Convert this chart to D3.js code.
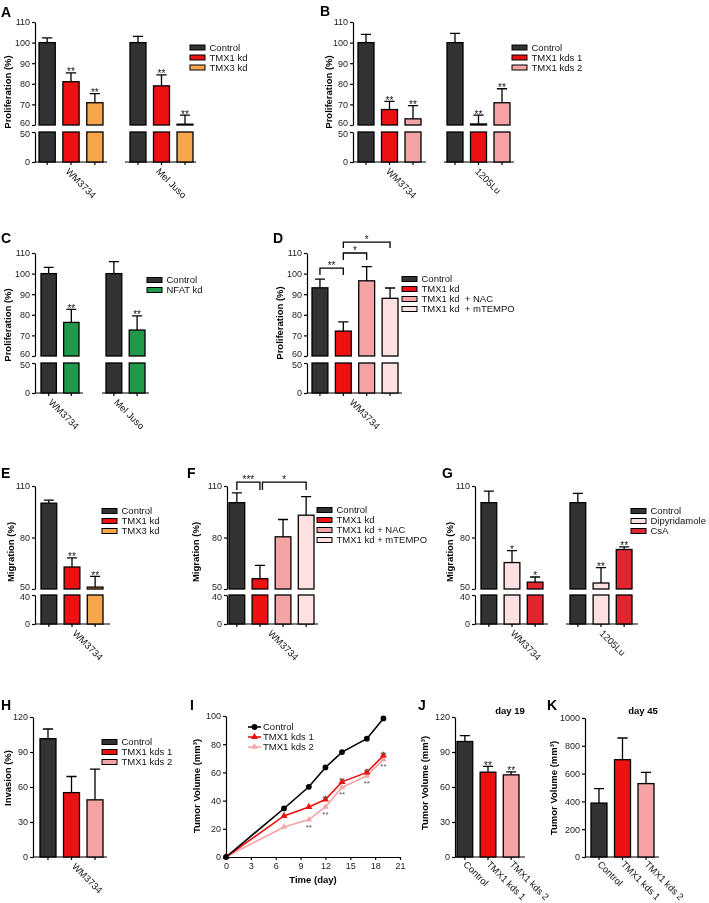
<!DOCTYPE html>
<html>
<head>
<meta charset="utf-8">
<style>
body { margin: 0; background: #fff; }
svg { display: block; font-family: "Liberation Sans", Arial, sans-serif; will-change: transform; }
.tick text { font-size: 9px; fill: #222; }
.tick line, .domain, .base { stroke: #000; stroke-width: 1.2px; }
.ytitle { font-size: 9.5px; font-weight: bold; }
.letter { font-size: 14px; font-weight: bold; }
.leg, .xlab { font-size: 9.5px; fill: #111; }
.star { font-size: 10px; fill: #111; }
.head { font-size: 9.5px; font-weight: bold; }
</style>
</head>
<body>
<svg id="fig" width="709" height="903"></svg>
<script src="https://cdn.jsdelivr.net/npm/d3@7"></script>
<script>
// ---------- data ----------
var catsA = ["Control", "TMX1 kd", "TMX3 kd"];
var cellsA = ["WM3734", "Mel Juso"];
var valsA = [[100, 81, 70.8], [100, 79, 60.4]];
var errA = [[2.3, 4.3, 4.4], [3, 5.3, 4.4]];
var starsA = [["", "**", "**"], ["", "**", "**"]];

var catsB = ["Control", "TMX1 kds 1", "TMX1 kds 2"];
var cellsB = ["WM3734", "1205Lu"];
var valsB = [[100, 67.5, 63], [100, 60.5, 70.8]];
var errB = [[4, 4, 6.4], [4.5, 4.3, 6.8]];
var starsB = [["", "**", "**"], ["", "**", "**"]];

var catsC = ["Control", "NFAT kd"];
var cellsC = ["WM3734", "Mel Juso"];
var valsC = [[100, 76.3], [100, 72.6]];
var errC = [[3, 6.3], [5.8, 6.9]];
var starsC = [["", "**"], ["", "**"]];

var catsD = ["Control", "TMX1 kd", "TMX1 kd  + NAC", "TMX1 kd  + mTEMPO"];
var cellsD = ["WM3734"];
var valsD = [[93.1, 72.1, 96.5, 88]];
var errD = [[4.2, 4.5, 6.9, 5]];
var starsD = [["", "", "", ""]];
var pairsD = [[0, 1, "**"], [1, 2, "*"], [1, 3, "*"]];

var catsE = ["Control", "TMX1 kd", "TMX3 kd"];
var cellsE = ["WM3734"];
var valsE = [[100, 62.8, 51.1]];
var errE = [[1.8, 5.3, 6.3]];
var starsE = [["", "**", "**"]];

var catsF = ["Control", "TMX1 kd", "TMX1 kd + NAC", "TMX1 kd + mTEMPO"];
var cellsF = ["WM3734"];
var valsF = [[100.3, 56, 80.4, 93]];
var errF = [[5.7, 7.8, 10.1, 10.8]];
var starsF = [["", "", "", ""]];
var pairsF = [[0, 1, "***"], [1, 3, "*"]];

var catsG = ["Control", "Dipyridamole", "CsA"];
var cellsG = ["WM3734", "1205Lu"];
var valsG = [[100.3, 65.4, 54], [100.3, 53.5, 73]];
var errG = [[6.7, 7, 3], [5.4, 8.9, 1.5]];
var starsG = [["", "*", "*"], ["", "**", "**"]];

var catsH = ["Control", "TMX1 kds 1", "TMX1 kds 2"];
var cellsH = ["WM3734"];
var valsH = [[101.4, 55.2, 49]];
var errH = [[8.3, 13.8, 26.3]];
var starsH = [["", "", ""]];

var days = [0, 7, 10, 12, 14, 17, 19];
var seriesI = ["Control", "TMX1 kds 1", "TMX1 kds 2"];
var controlI = [0, 34.4, 49.8, 63.5, 74.4, 83.9, 98.3];
var kds1I = [0, 29.1, 35.5, 40.8, 53.3, 60, 72];
var kds2I = [0, 21.3, 26.5, 35.5, 49.3, 57.6, 69.2];
var starDays1 = [12, 14, 17, 19];
var starDays2 = [10, 12, 14, 17, 19];

var catsJ = ["Control", "TMX1 kds 1", "TMX1 kds 2"];
var valsJ = [[99, 72.7, 70.4]];
var errJ = [[5, 4.9, 2.6]];
var starsJ = [["", "**", "**"]];

var catsK = ["Control", "TMX1 kds 1", "TMX1 kds 2"];
var valsK = [[388, 700, 528]];
var errK = [[104, 156, 81]];
var starsK = [["", "", ""]];

// ---------- colours ----------
var cCtrl = "#333333", cRed = "#ee1111", cOrange = "#f6a64c", cPink = "#f4a4a4",
    cPale = "#fde1e1", cGreen = "#1f9a4b", cCsA = "#e0262e";

var svg = d3.select("#fig");

var segsAB = [{d: [60, 110], r: [125, 22], t: [60, 70, 80, 90, 100, 110]}, {d: [0, 50], r: [162, 132], t: [0, 50]}];
var segsCD = [{d: [60, 110], r: [356, 253], t: [60, 70, 80, 90, 100, 110]}, {d: [0, 50], r: [393, 363], t: [0, 50]}];
var segsEFG = [{d: [50, 110], r: [589, 486], t: [50, 80, 110]}, {d: [0, 40], r: [624, 595], t: [0, 40]}];

function letter(t, x, y) {
  svg.append("text").attr("class", "letter").attr("x", x).attr("y", y).text(t);
}

function yTitle(t, x, y) {
  svg.append("text").attr("class", "ytitle")
    .attr("transform", "translate(" + x + "," + y + ") rotate(-90)")
    .attr("text-anchor", "middle").text(t);
}

function legend(x, y, cats, colors) {
  var g = svg.append("g").attr("transform", "translate(" + x + "," + y + ")");
  var rows = g.selectAll("g").data(cats).enter().append("g")
    .attr("transform", function(d, i) { return "translate(0," + i * 10 + ")"; });
  rows.append("rect").attr("x", 0).attr("y", -2.5).attr("width", 15).attr("height", 5)
    .attr("fill", function(d, i) { return colors[i]; })
    .attr("stroke", "#000").attr("stroke-width", 1);
  rows.append("text").attr("class", "leg").attr("x", 19.5).attr("y", 3.4)
    .style("white-space", "pre").text(function(d) { return d; });
}

function barPanel(L, cats, cells, vals, errs, stars, colors) {
  var g = svg.append("g");
  var segs = L.segs.map(function(s) {
    return {d: s.d, t: s.t, y: d3.scaleLinear().domain(s.d).range(s.r)};
  });
  segs.forEach(function(s, si) {
    var ax = g.append("g").attr("transform", "translate(" + L.axisX + ",0)")
      .call(d3.axisLeft(s.y).tickValues(s.t).tickFormat(d3.format("d"))
        .tickSize(3).tickSizeOuter(0).tickPadding(2));
    if (segs.length > 1) {
      // pull the labels either side of the axis break apart a little
      var edge = si === 0 ? s.d[0] : s.d[1];
      ax.selectAll(".tick").filter(function(d) { return d === edge; }).select("text")
        .attr("y", si === 0 ? -2 : 2);
    }
  });
  var top = segs[0];
  var y0 = segs[segs.length - 1].y(0);
  var xs = [];
  cells.forEach(function(cell, gi) {
    var G = L.groups[gi];
    var x = d3.scaleBand().domain(cats).range(G.bars).paddingInner(0.32);
    xs.push(x);
    g.append("line").attr("class", "base")
      .attr("x1", G.base[0]).attr("x2", G.base[1]).attr("y1", y0).attr("y2", y0);
    var ax = g.append("g").attr("transform", "translate(0," + y0 + ")")
      .call(d3.axisBottom(x).tickSize(3).tickFormat(""));
    ax.select(".domain").remove();
    cats.forEach(function(c, ci) {
      var v = vals[gi][ci];
      segs.forEach(function(s) {
        if (v <= s.d[0]) return;
        var hi = Math.min(v, s.d[1]);
        g.append("rect").attr("x", x(c)).attr("width", x.bandwidth())
          .attr("y", s.y(hi)).attr("height", s.y(s.d[0]) - s.y(hi))
          .attr("fill", colors[ci]).attr("stroke", "#000").attr("stroke-width", 1.3);
      });
      var cx = x(c) + x.bandwidth() / 2;
      var yb = top.y(v), yt = top.y(v + errs[gi][ci]);
      var hw = x.bandwidth() * 0.32;
      g.append("path").attr("d", "M" + cx + "," + yb + "V" + yt + "M" + (cx - hw) + "," + yt + "H" + (cx + hw))
        .attr("stroke", "#000").attr("stroke-width", 1.3).attr("fill", "none");
      if (stars[gi][ci]) {
        g.append("text").attr("class", "star").attr("x", cx).attr("y", yt + 2.5)
          .attr("text-anchor", "middle").text(stars[gi][ci]);
      }
      if (L.catLabels) {
        g.append("text").attr("class", "xlab")
          .attr("transform", "translate(" + (cx - 2) + "," + (y0 + 8) + ") rotate(45)")
          .text(c);
      }
    });
    if (!L.catLabels) {
      var gc = (G.bars[0] + G.bars[1]) / 2;
      g.append("text").attr("class", "xlab")
        .attr("transform", "translate(" + (gc + L.ldx) + "," + (y0 + 10) + ") rotate(45)")
        .text(cell);
    }
  });
  if (L.pairs) {
    var x = xs[0];
    L.pairs.forEach(function(p, i) {
      var lv = L.levels[i];
      var x1 = x(cats[p[0]]) + x.bandwidth() / 2 + (lv[2] || 0);
      var x2 = x(cats[p[1]]) + x.bandwidth() / 2 + (lv[3] || 0);
      var yl = top.y(lv[0]), yd = top.y(lv[1]);
      g.append("path").attr("d", "M" + x1 + "," + yd + "V" + yl + "H" + x2 + "V" + yd)
        .attr("stroke", "#000").attr("stroke-width", 1.3).attr("fill", "none");
      g.append("text").attr("class", "star").attr("x", (x1 + x2) / 2).attr("y", yl + 0.5)
        .attr("text-anchor", "middle").text(p[2]);
    });
  }
  return g;
}

// ---------- A ----------
letter("A", 1, 17);
yTitle("Proliferation (%)", 11, 92);
barPanel({segs: segsAB, axisX: 35, ldx: -6,
  groups: [{bars: [39, 103], base: [35, 107]}, {bars: [130, 193], base: [125, 196]}]},
  catsA, cellsA, valsA, errA, starsA, [cCtrl, cRed, cOrange]);
legend(190, 47.5, catsA, [cCtrl, cRed, cOrange]);

// ---------- B ----------
letter("B", 320, 16);
yTitle("Proliferation (%)", 332, 92);
barPanel({segs: segsAB, axisX: 353, ldx: -4,
  groups: [{bars: [358, 421], base: [353, 426]}, {bars: [447, 510], base: [444, 514]}]},
  catsB, cellsB, valsB, errB, starsB, [cCtrl, cRed, cPink]);
legend(512, 47.5, catsB, [cCtrl, cRed, cPink]);

// ---------- C ----------
letter("C", 1, 243);
yTitle("Proliferation (%)", 11, 325);
barPanel({segs: segsCD, axisX: 35, ldx: -12,
  groups: [{bars: [41, 79], base: [35, 83]}, {bars: [106, 145], base: [102, 149]}]},
  catsC, cellsC, valsC, errC, starsC, [cCtrl, cGreen]);
legend(147, 280, catsC, [cCtrl, cGreen]);

// ---------- D ----------
letter("D", 273, 243);
yTitle("Proliferation (%)", 283, 323);
barPanel({segs: segsCD, axisX: 307, ldx: -6,
  groups: [{bars: [312, 398], base: [307, 402]}],
  pairs: pairsD, levels: [[102.7, 99.3], [110, 106.6], [115.3, 112.4]]},
  catsD, cellsD, valsD, errD, starsD, [cCtrl, cRed, cPink, cPale]);
legend(402, 279, catsD, [cCtrl, cRed, cPink, cPale]);

// ---------- E ----------
letter("E", 1, 478);
yTitle("Migration (%)", 14, 552);
barPanel({segs: segsEFG, axisX: 35, ldx: 0,
  groups: [{bars: [41, 103], base: [35, 110]}]},
  catsE, cellsE, valsE, errE, starsE, [cCtrl, cRed, cOrange]);
legend(102, 511, catsE, [cCtrl, cRed, cOrange]);

// ---------- F ----------
letter("F", 187, 478);
yTitle("Migration (%)", 199, 552);
barPanel({segs: segsEFG, axisX: 227, ldx: -4,
  groups: [{bars: [229, 314], base: [227, 318]}],
  pairs: pairsF, levels: [[112.3, 107.7, 0, 0], [112.3, 107.7, 2.5, 0]]},
  catsF, cellsF, valsF, errF, starsF, [cCtrl, cRed, cPink, cPale]);
legend(317, 510, catsF, [cCtrl, cRed, cPink, cPale]);

// ---------- G ----------
letter("G", 442, 478);
yTitle("Migration (%)", 453, 552);
barPanel({segs: segsEFG, axisX: 475, ldx: -2,
  groups: [{bars: [481, 543], base: [475, 548]}, {bars: [570, 632], base: [566, 638]}]},
  catsG, cellsG, valsG, errG, starsG, [cCtrl, cPale, cCsA]);
legend(631, 511, catsG, [cCtrl, cPale, cCsA]);

// ---------- H ----------
letter("H", 1, 710);
yTitle("Invasion (%)", 11, 778);
barPanel({segs: [{d: [0, 120], r: [857, 717], t: [0, 30, 60, 90, 120]}], axisX: 33, ldx: 0,
  groups: [{bars: [40, 103], base: [33, 107]}]},
  catsH, cellsH, valsH, errH, starsH, [cCtrl, cRed, cPink]);
legend(102, 742, catsH, [cCtrl, cRed, cPink]);

// ---------- I ----------
letter("I", 190, 710);
yTitle("Tumor Volume (mm\u00b3)", 200, 786);
(function() {
  var g = svg.append("g");
  var x = d3.scaleLinear().domain([0, 21]).range([226, 400]);
  var y = d3.scaleLinear().domain([0, 100]).range([857, 716]);
  g.append("g").attr("transform", "translate(0,857)")
    .call(d3.axisBottom(x).tickValues(d3.range(0, 22, 3)).tickSize(3).tickSizeOuter(0).tickPadding(3));
  g.append("g").attr("transform", "translate(226,0)")
    .call(d3.axisLeft(y).tickValues(d3.range(0, 101, 20)).tickSize(3).tickSizeOuter(0).tickPadding(2));
  g.append("text").attr("class", "ytitle").attr("x", 313).attr("y", 883)
    .attr("text-anchor", "middle").text("Time (day)");
  var sets = [
    {v: controlI, c: "#000", sym: d3.symbolCircle, size: 26},
    {v: kds1I, c: cRed, sym: d3.symbolTriangle, size: 22},
    {v: kds2I, c: cPink, sym: d3.symbolTriangle, size: 18}
  ];
  var line = d3.line().x(function(d, i) { return x(days[i]); }).y(function(d) { return y(d); });
  sets.slice().reverse().forEach(function(s) {
    g.append("path").datum(s.v).attr("d", line).attr("fill", "none")
      .attr("stroke", s.c).attr("stroke-width", 1.6);
    g.selectAll(null).data(s.v).enter().append("path")
      .attr("transform", function(d, i) { return "translate(" + x(days[i]) + "," + y(d) + ")"; })
      .attr("d", d3.symbol().type(s.sym).size(s.size)).attr("fill", s.c);
  });
  // stars: above kds1 points, below kds2 points
  [[starDays1, kds1I, 1.5], [starDays2, kds2I, 10]].forEach(function(p) {
    p[0].forEach(function(day) {
      var v = p[1][days.indexOf(day)];
      g.append("text").attr("class", "star").style("font-size", "8px").style("fill", "#555")
        .attr("x", x(day)).attr("y", y(v) + p[2]).attr("text-anchor", "middle").text("**");
    });
  });
  var lg = g.append("g").attr("transform", "translate(248,727)");
  sets.forEach(function(s, i) {
    var r = lg.append("g").attr("transform", "translate(0," + i * 10 + ")");
    r.append("line").attr("x1", 0).attr("x2", 13).attr("stroke", s.c).attr("stroke-width", 1.6);
    r.append("path").attr("transform", "translate(6.5,0)")
      .attr("d", d3.symbol().type(s.sym).size(s.size)).attr("fill", s.c);
    r.append("text").attr("class", "leg").attr("x", 15).attr("y", 3.4).text(seriesI[i]);
  });
})();

// ---------- J ----------
letter("J", 418, 710);
yTitle("Tumor Volume (mm\u00b3)", 428, 783);
barPanel({segs: [{d: [0, 120], r: [857, 717], t: [0, 30, 60, 90, 120]}], axisX: 455, catLabels: true,
  groups: [{bars: [457, 519], base: [455, 525]}]},
  catsJ, ["day 19"], valsJ, errJ, starsJ, [cCtrl, cRed, cPink]);
svg.append("text").attr("class", "head").attr("x", 510).attr("y", 714).attr("text-anchor", "middle").text("day 19");

// ---------- K ----------
letter("K", 547, 710);
yTitle("Tumor Volume (mm\u00b3)", 557, 788);
barPanel({segs: [{d: [0, 1000], r: [857, 718], t: d3.range(0, 1001, 200)}], axisX: 585, catLabels: true,
  groups: [{bars: [591, 654], base: [585, 659]}]},
  catsK, ["day 45"], valsK, errK, starsK, [cCtrl, cRed, cPink]);
svg.append("text").attr("class", "head").attr("x", 643).attr("y", 714).attr("text-anchor", "middle").text("day 45");
</script>
</body>
</html>
